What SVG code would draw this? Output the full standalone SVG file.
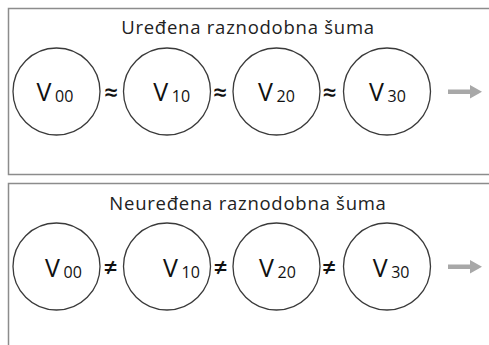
<svg xmlns="http://www.w3.org/2000/svg" width="489" height="345" viewBox="0 0 489 345">
  <style>
    .panel { fill: #ffffff; stroke: #8c8c8c; stroke-width: 1.5; }
    .node { fill: #ffffff; stroke: #3a3a3a; stroke-width: 1.3; }
    .title { font-family: "Open Sans", "Noto Sans", sans-serif; font-size: 18.5px; letter-spacing: 0.75px; fill: #222; text-anchor: middle; }
    .v { font-family: "Open Sans", "Noto Sans", sans-serif; font-size: 25px; fill: #111; }
    .sub { font-family: "Open Sans", "Noto Sans", sans-serif; font-size: 16px; fill: #111; }
    .rel { font-family: "Open Sans", "Noto Sans", sans-serif; font-size: 24px; fill: #111; text-anchor: middle; font-weight: 600; }
    .arrow { fill: #a8a8a8; }
  </style>
  <rect width="489" height="345" fill="#ffffff"/>

  <g id="panel-top">
    <rect class="panel" x="8.5" y="8.5" width="490" height="166"/>
    <text class="title" x="248" y="34">Uređena raznodobna šuma</text>
  </g>
  <g id="panel-bottom">
    <rect class="panel" x="8.5" y="183.5" width="490" height="170"/>
    <text class="title" x="248" y="210">Neuređena raznodobna šuma</text>
  </g>

  <g id="t-v00"><circle class="node" cx="56.5" cy="91.5" r="43.5"/><text class="v" x="36.5" y="100.5">V</text><text class="sub" x="55" y="102">00</text></g>
  <g id="t-v10"><circle class="node" cx="167" cy="91.5" r="43.5"/><text class="v" x="153.3" y="100.5">V</text><text class="sub" x="171.8" y="102">10</text></g>
  <g id="t-v20"><circle class="node" cx="276.5" cy="91.5" r="43.5"/><text class="v" x="258" y="100.5">V</text><text class="sub" x="276.5" y="102">20</text></g>
  <g id="t-v30"><circle class="node" cx="387" cy="91.5" r="43.5"/><text class="v" x="369" y="100.5">V</text><text class="sub" x="387.5" y="102">30</text></g>

  <g id="b-v00"><circle class="node" cx="56.5" cy="266.5" r="43.5"/><text class="v" x="45" y="276.5">V</text><text class="sub" x="63.5" y="278">00</text></g>
  <g id="b-v10"><circle class="node" cx="167" cy="266.5" r="43.5"/><text class="v" x="163" y="276.5">V</text><text class="sub" x="181.5" y="278">10</text></g>
  <g id="b-v20"><circle class="node" cx="276.5" cy="266.5" r="43.5"/><text class="v" x="259" y="276.5">V</text><text class="sub" x="277.5" y="278">20</text></g>
  <g id="b-v30"><circle class="node" cx="387" cy="266.5" r="43.5"/><text class="v" x="372.7" y="276.5">V</text><text class="sub" x="391.2" y="278">30</text></g>

  <g id="connectors">
    <text class="rel" x="111" y="100.5">≈</text>
    <text class="rel" x="220" y="100.5">≈</text>
    <text class="rel" x="329.5" y="100.5">≈</text>
    <text class="rel" x="110.5" y="276">≠</text>
    <text class="rel" x="220.5" y="276">≠</text>
    <text class="rel" x="329" y="276">≠</text>
    <path class="arrow" d="M448,89.5 H470 V85 L482,91.8 L470,98.5 V94 H448 Z"/>
    <path class="arrow" d="M448,264.5 H470 V260 L482,266.8 L470,273.5 V269 H448 Z"/>
  </g>
</svg>
